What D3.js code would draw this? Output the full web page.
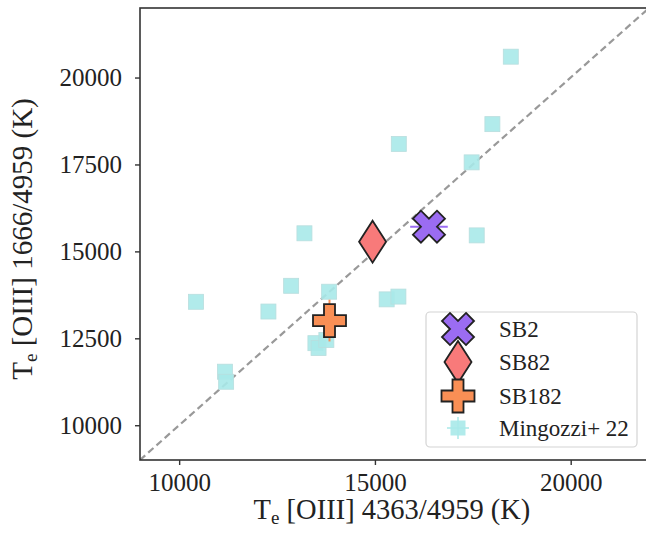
<!DOCTYPE html>
<html><head><meta charset="utf-8">
<script src="https://cdn.jsdelivr.net/npm/d3@7"></script>
<style>body{margin:0;background:#fff}svg{display:block}</style>
</head><body>
<svg id="c" width="646" height="536"></svg>
<script>
// ---- data ----
const xTicks = [10000, 15000, 20000];
const yTicks = [10000, 12500, 15000, 17500, 20000];
const mingozziX = [18470, 18000, 15610, 17470, 13200, 17600, 10430, 12860, 13830, 12280, 15300, 15600, 13480, 13560, 13760, 11170, 11200];
const mingozziY = [20600, 18660, 18090, 17560, 15520, 15460, 13550, 14010, 13840, 13270, 13620, 13700, 12360, 12220, 12450, 11540, 11250];
const sbNames = ["SB2", "SB82", "SB182"];
const sbX = [16380, 14940, 13840];
const sbY = [15710, 15280, 13010];
const sbXErr = [480, 0, 0];
const sbYErr = [0, 0, 600];
const legendLabels = ["SB2", "SB82", "SB182", "Mingozzi+ 22"];

// ---- layout ----
const svg = d3.select("#c");
const L = 140, R = 649, T = 8, B = 460;
const x = d3.scaleLinear().domain([9000, 22000]).range([L, R]);
const y = d3.scaleLinear().domain([9000, 22000]).range([B, T]);
const serif = "'Liberation Serif','Times New Roman',serif";

const sbColor = ["#9b6cf2", "#f87a7a", "#f98f55"];
const cyan = "#a9e9e9";

svg.append("defs").append("clipPath").attr("id", "clip")
  .append("rect").attr("x", L).attr("y", T).attr("width", R - L).attr("height", B - T);

// marker shapes
function plusPath(h) {
  const w = h / 3;
  const pts = [[-w,-h],[w,-h],[w,-w],[h,-w],[h,w],[w,w],[w,h],[-w,h],[-w,w],[-h,w],[-h,-w],[-w,-w]];
  return "M" + pts.map(p => p.join(",")).join("L") + "Z";
}
function xPath(h) {
  const w = h / 3, c = Math.SQRT1_2;
  const pts = [[-w,-h],[w,-h],[w,-w],[h,-w],[h,w],[w,w],[w,h],[-w,h],[-w,w],[-h,w],[-h,-w],[-w,-w]]
    .map(([a,b]) => [(a - b) * c, (a + b) * c]);
  return "M" + pts.map(p => p.map(v => v.toFixed(2)).join(",")).join("L") + "Z";
}
function diamondPath(hw, hh) {
  return `M0,${-hh}L${hw},0L0,${hh}L${-hw},0Z`;
}
const shapes = [xPath(17), diamondPath(13.5, 21), plusPath(16.5)];

const plot = svg.append("g").attr("clip-path", "url(#clip)");

// diagonal 1:1 line
plot.append("line")
  .attr("x1", x(9000)).attr("y1", y(9000)).attr("x2", x(22000)).attr("y2", y(22000))
  .attr("stroke", "#999").attr("stroke-width", 2.2).attr("stroke-dasharray", "7,4");

// Mingozzi squares
const sq = 15;
plot.selectAll("rect.m").data(mingozziX.map((v, i) => [v, mingozziY[i]])).join("rect")
  .attr("class", "m")
  .attr("x", d => x(d[0]) - sq / 2).attr("y", d => y(d[1]) - sq / 2)
  .attr("width", sq).attr("height", sq)
  .attr("fill", cyan).attr("fill-opacity", 0.9)
  .attr("stroke", "#b8dede").attr("stroke-width", 0.8);

// SB error bars
sbNames.forEach((n, i) => {
  if (sbXErr[i]) plot.append("line")
    .attr("x1", x(sbX[i] - sbXErr[i])).attr("x2", x(sbX[i] + sbXErr[i]))
    .attr("y1", y(sbY[i])).attr("y2", y(sbY[i]))
    .attr("stroke", sbColor[i]).attr("stroke-width", 2);
  if (sbYErr[i]) plot.append("line")
    .attr("x1", x(sbX[i])).attr("x2", x(sbX[i]))
    .attr("y1", y(sbY[i] - sbYErr[i])).attr("y2", y(sbY[i] + sbYErr[i]))
    .attr("stroke", sbColor[i]).attr("stroke-width", 2);
});
// SB markers
sbNames.forEach((n, i) => {
  plot.append("path")
    .attr("d", shapes[i])
    .attr("transform", `translate(${x(sbX[i])},${y(sbY[i])})`)
    .attr("fill", sbColor[i]).attr("stroke", "#222").attr("stroke-width", 1.8)
    .attr("stroke-linejoin", "miter");
});

// frame
svg.append("rect").attr("x", L).attr("y", T).attr("width", R - L).attr("height", B - T)
  .attr("fill", "none").attr("stroke", "#333").attr("stroke-width", 1.6);

// axes
const xAxis = d3.axisBottom(x).tickValues(xTicks).tickSize(5).tickPadding(8).tickFormat(d3.format("d"));
const yAxis = d3.axisLeft(y).tickValues(yTicks).tickSize(5).tickPadding(13).tickFormat(d3.format("d"));
const gx = svg.append("g").attr("transform", `translate(0,${B})`).call(xAxis);
const gy = svg.append("g").attr("transform", `translate(${L},0)`).call(yAxis);
[gx, gy].forEach(g => {
  g.select(".domain").remove();
  g.selectAll(".tick line").attr("stroke", "#333").attr("stroke-width", 1.4);
  g.selectAll(".tick text").attr("font-family", serif).attr("font-size", 25).attr("fill", "#222");
});

// axis labels
const xl = svg.append("text").attr("x", 392).attr("y", 519)
  .attr("text-anchor", "middle").attr("font-family", serif).attr("font-size", 28.5).attr("fill", "#222");
xl.append("tspan").text("T");
xl.append("tspan").attr("font-size", 19).attr("dy", 5).text("e");
xl.append("tspan").attr("dy", -5).text(" [OIII] 4363/4959 (K)");

const yl = svg.append("text").attr("transform", "translate(32,239) rotate(-90)")
  .attr("text-anchor", "middle").attr("font-family", serif).attr("font-size", 29).attr("fill", "#222");
yl.append("tspan").text("T");
yl.append("tspan").attr("font-size", 19).attr("dy", 5).text("e");
yl.append("tspan").attr("dy", -5).text(" [OIII] 1666/4959 (K)");

// legend
const lg = svg.append("g");
lg.append("rect").attr("x", 426).attr("y", 312).attr("width", 211).attr("height", 135)
  .attr("rx", 4).attr("fill", "#fff").attr("fill-opacity", 0.85)
  .attr("stroke", "#d4d4d4").attr("stroke-width", 1.2);
const rowY = [329, 362, 396, 428];
const mx = 458;
legendLabels.forEach((lab, i) => {
  if (i < 3) {
    lg.append("path").attr("d", shapes[i]).attr("transform", `translate(${mx},${rowY[i]})`)
      .attr("fill", sbColor[i]).attr("stroke", "#222").attr("stroke-width", 1.8);
  } else {
    lg.append("line").attr("x1", mx).attr("x2", mx).attr("y1", rowY[i] - 11).attr("y2", rowY[i] + 11)
      .attr("stroke", cyan).attr("stroke-width", 1.5);
    lg.append("line").attr("x1", mx - 11).attr("x2", mx + 11).attr("y1", rowY[i]).attr("y2", rowY[i])
      .attr("stroke", cyan).attr("stroke-width", 1.5);
    lg.append("rect").attr("x", mx - sq / 2).attr("y", rowY[i] - sq / 2).attr("width", sq).attr("height", sq)
      .attr("fill", cyan).attr("fill-opacity", 0.9);
  }
  lg.append("text").attr("x", 499).attr("y", rowY[i] + 8)
    .attr("font-family", serif).attr("font-size", 23).attr("fill", "#222").text(lab);
});
</script>
</body></html>
